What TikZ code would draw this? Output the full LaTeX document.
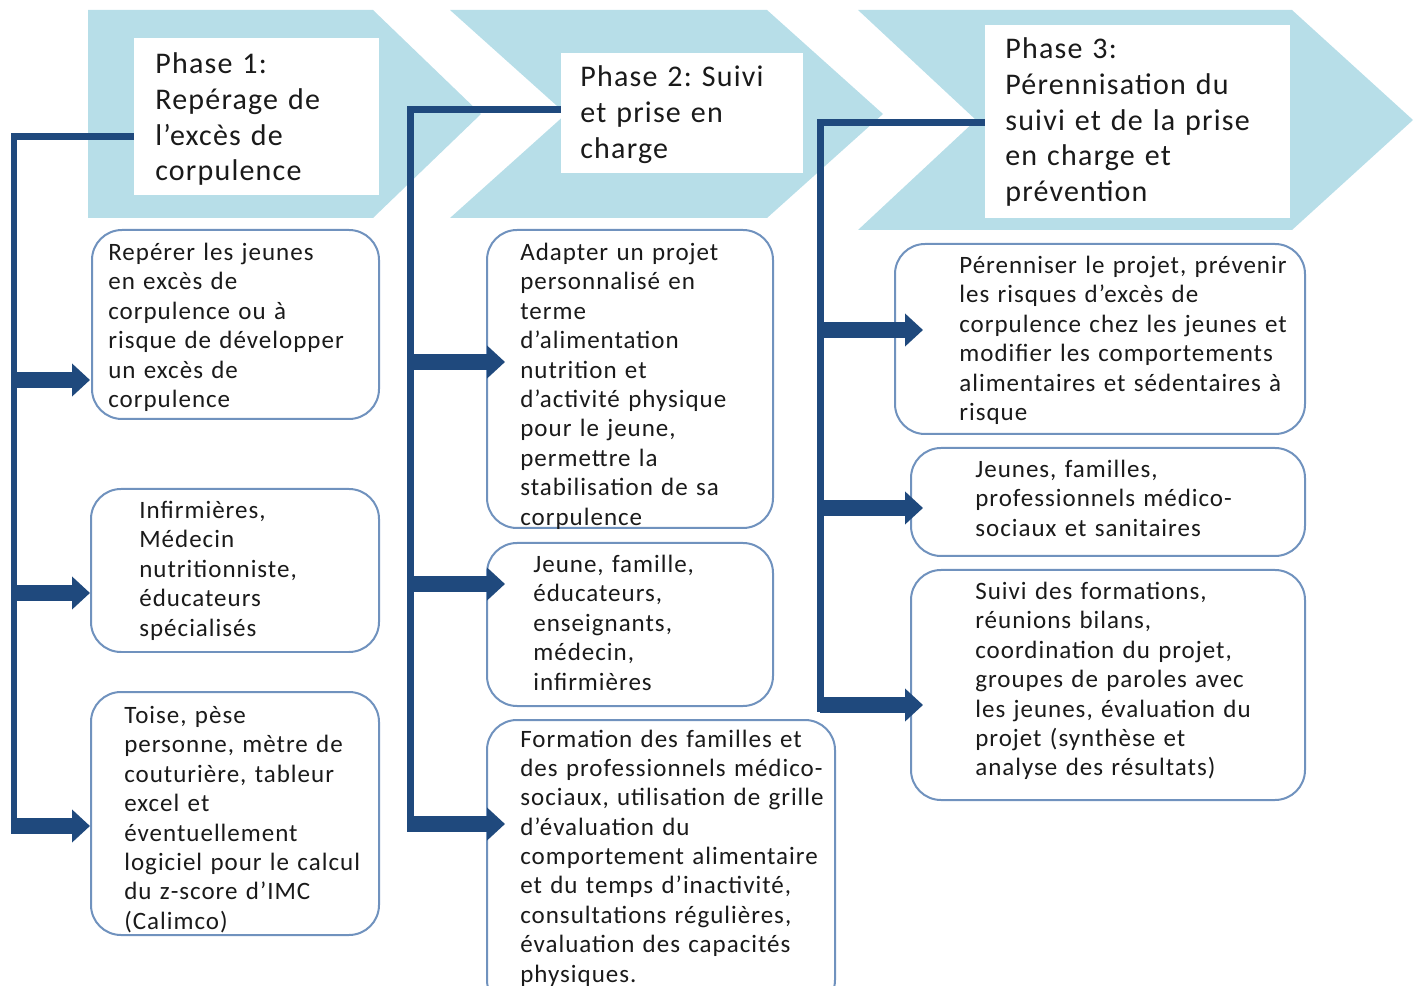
\documentclass[tikz,border=0pt]{standalone}
\usepackage{fontspec}
\setmainfont{Carlito}[LetterSpace=4,WordSpace=0.55]
\frenchspacing
\usetikzlibrary{arrows.meta,fit}
\definecolor{chev}{HTML}{B7DEE8}
\definecolor{trunk}{HTML}{1F497D}
\definecolor{boxline}{HTML}{7092BE}
\definecolor{txt}{HTML}{1A1A1A}
\begin{document}
\begin{tikzpicture}[x=0.02cm,y=-0.02cm,
  chevron/.style={fill=chev,draw=none},
  phasebox/.style={fill=white,draw=none,inner sep=0},
  card/.style={draw=boxline,line width=0.04cm,rounded corners=0.6cm,fill=white,inner sep=0},
  trunkline/.style={draw=trunk,line width=0.14cm,line join=miter},
  blockarrow/.style={draw=trunk,line width=0.32cm,-{Triangle[width=0.64cm,length=0.36cm]}},
  cardtext/.style={anchor=base west,inner sep=0,text width=8cm,align=left,text=txt,
    font=\fontsize{0.5cm}{0.588cm}\selectfont\frenchspacing},
  phasetext/.style={anchor=base west,inner sep=0,text width=8cm,align=left,text=txt,
    font=\fontsize{0.6cm}{0.712cm}\selectfont\frenchspacing}]
\clip (0,0) rectangle (1421,986);
\useasboundingbox (0,0) rectangle (1421,986);
% chevrons
\fill[chevron] (88,10) -- (373,10) -- (481,114) -- (373,218) -- (88,218) -- cycle;
\fill[chevron] (450,10) -- (767,10) -- (883,114) -- (767,218) -- (450,218) -- (566,114) -- cycle;
\fill[chevron] (858,10) -- (1292,10) -- (1413,120) -- (1292,230) -- (858,230) -- (976,120) -- cycle;
% phase boxes
\node[phasebox,fit={(134,38)(379,195)}] (w1) {};
\node[phasebox,fit={(561,53)(803,173)}] (w2) {};
\node[phasebox,fit={(985,25)(1290,218)}] (w3) {};
% trunk coordinates
\coordinate (k1top) at (14,137);
\coordinate (k1bot) at (14,834);
\coordinate (k2top) at (410,110);
\coordinate (k2bot) at (410,832);
\coordinate (k3top) at (820,123);
\coordinate (k3bot) at (820,712);
\draw[trunkline] (w1.west |- k1top) -- (k1top) -- (k1bot);
\draw[trunkline] (w2.west |- k2top) -- (k2top) -- (k2bot);
\draw[trunkline] (w3.west |- k3top) -- (k3top) -- (k3bot);
% cards
\node[card,fit={(92,230)(379,419)}] (b1a) {};
\node[card,fit={(91,489)(379,652)}] (b1b) {};
\node[card,fit={(91,692)(379,935)}] (b1c) {};
\node[card,fit={(487,230)(773,528)}] (b2a) {};
\node[card,fit={(487,543)(773,706)}] (b2b) {};
\node[card,fit={(487,720)(835,1010)}] (b2c) {};
\node[card,fit={(895,244)(1305,434)}] (b3a) {};
\node[card,fit={(911,448)(1305,556)}] (b3b) {};
\node[card,fit={(911,570)(1305,800)}] (b3c) {};
% arrow tips
\coordinate (e1a) at (90,380);
\coordinate (e1b) at (90,593);
\coordinate (e1c) at (90,826);
\coordinate (e2a) at (505,362);
\coordinate (e2b) at (505,584);
\coordinate (e2c) at (505,824);
\coordinate (e3a) at (923,330);
\coordinate (e3b) at (923,508);
\coordinate (e3c) at (923,705);
\foreach \e/\k in {e1a/k1top,e1b/k1top,e1c/k1top,e2a/k2top,e2b/k2top,e2c/k2top,e3a/k3top,e3b/k3top,e3c/k3top}
  \draw[blockarrow] (\k |- \e) -- (\e);
% phase texts
\node[phasetext] (p1) at (155,74) {Phase 1:\\ Repérage de\\ l’excès de\\ corpulence};
\node[phasetext] (p2) at (580,87) {Phase 2: Suivi\\ et prise en\\ charge};
\node[phasetext] (p3) at (1005,59) {Phase 3:\\ Pérennisation du\\ suivi et de la prise\\ en charge et\\ prévention};
% card texts
\node[cardtext] (t1a) at (108,260.5) {Repérer les jeunes\\ en excès de\\ corpulence ou à\\ risque de développer\\ un excès de\\ corpulence};
\node[cardtext] (t1b) at (139,518.5) {Infirmières,\\ Médecin\\ nutritionniste,\\ éducateurs\\ spécialisés};
\node[cardtext] (t1c) at (124,723.5) {Toise, pèse\\ personne, mètre de\\ couturière, tableur\\ excel et\\ éventuellement\\ logiciel pour le calcul\\ du z-score d’IMC\\ (Calimco)};
\node[cardtext] (t2a) at (520,260.5) {Adapter un projet\\ personnalisé en\\ terme\\ d’alimentation\\ nutrition et\\ d’activité physique\\ pour le jeune,\\ permettre la\\ stabilisation de sa\\ corpulence};
\node[cardtext] (t2b) at (533,572.5) {Jeune, famille,\\ éducateurs,\\ enseignants,\\ médecin,\\ infirmières};
\node[cardtext] (t2c) at (520,747) {Formation des familles et\\ des professionnels médico-\\ sociaux, utilisation de grille\\ d’évaluation du\\ comportement alimentaire\\ et du temps d’inactivité,\\ consultations régulières,\\ évaluation des capacités\\ physiques.};
\node[cardtext] (t3a) at (959,273.5) {Pérenniser le projet, prévenir\\ les risques d’excès de\\ corpulence chez les jeunes et\\ modifier les comportements\\ alimentaires et sédentaires à\\ risque};
\node[cardtext] (t3b) at (975,477.5) {Jeunes, familles,\\ professionnels médico-\\ sociaux et sanitaires};
\node[cardtext] (t3c) at (975,599.5) {Suivi des formations,\\ réunions bilans,\\ coordination du projet,\\ groupes de paroles avec\\ les jeunes, évaluation du\\ projet (synthèse et\\ analyse des résultats)};
\end{tikzpicture}
\end{document}
